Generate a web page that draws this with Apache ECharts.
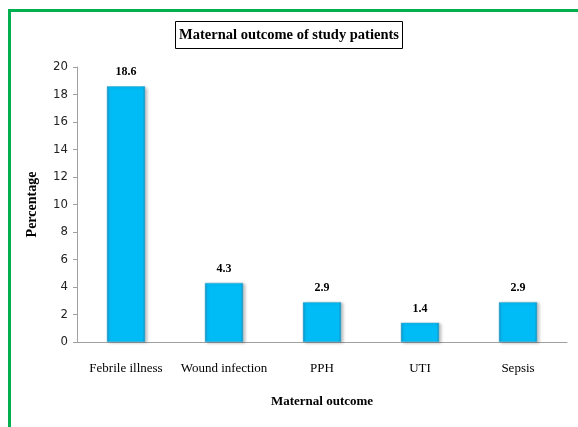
<!DOCTYPE html>
<html><head><meta charset="utf-8">
<script src="https://cdn.jsdelivr.net/npm/echarts@6/dist/echarts.min.js"></script>
<style>
html,body{margin:0;padding:0;background:#fff;}
#frame{position:absolute;left:8px;top:9px;width:570px;height:418px;border-left:3px solid #00b050;border-top:3px solid #00b050;box-sizing:border-box;}
#c{position:absolute;left:0;top:0;width:578px;height:427px;}
</style>
</head><body>
<div id="frame"></div>
<div id="c"></div>
<script>
const categories = ['Febrile illness', 'Wound infection', 'PPH', 'UTI', 'Sepsis'];
const values = [18.6, 4.3, 2.9, 1.4, 2.9];
const yTicks = [0, 2, 4, 6, 8, 10, 12, 14, 16, 18, 20];

const chart = echarts.init(document.getElementById('c'));
chart.setOption({
  backgroundColor: 'transparent',
  animation: false,
  title: {
    text: 'Maternal outcome of study patients',
    left: 'center',
    top: 21,
    padding: [7, 4, 6, 4],
    borderColor: '#000',
    borderWidth: 1,
    textStyle: {fontFamily: 'Liberation Serif', fontWeight: 'bold', fontSize: 14.5, color: '#000'}
  },
  grid: {left: 77, right: 11, top: 67, bottom: 85, containLabel: false},
  xAxis: {
    type: 'category',
    data: categories,
    name: 'Maternal outcome',
    nameLocation: 'middle',
    nameGap: 53,
    nameTextStyle: {fontFamily: 'Liberation Serif', fontWeight: 'bold', fontSize: 13, color: '#000'},
    axisLine: {lineStyle: {color: '#a0a0a0'}},
    axisTick: {show: false},
    axisLabel: {fontFamily: 'Liberation Serif', fontSize: 13, color: '#000', margin: 20, interval: 0}
  },
  yAxis: {
    type: 'value',
    min: yTicks[0],
    max: yTicks[yTicks.length - 1],
    interval: 2,
    name: 'Percentage',
    nameLocation: 'middle',
    nameGap: 38,
    nameTextStyle: {fontFamily: 'Liberation Serif', fontWeight: 'bold', fontSize: 14, color: '#000'},
    axisLine: {show: true, lineStyle: {color: '#a0a0a0'}},
    axisTick: {show: true, length: 4, lineStyle: {color: '#a0a0a0'}},
    splitLine: {show: false},
    axisLabel: {fontFamily: '"DejaVu Sans Condensed", "Liberation Sans", sans-serif', fontSize: 13, color: '#222', margin: 9}
  },
  series: [{
    type: 'bar',
    data: values,
    barWidth: '39%',
    itemStyle: {
      color: new echarts.graphic.LinearGradient(0, 0, 1, 0, [
        {offset: 0, color: '#1590c0'},
        {offset: 0.07, color: '#00bcf6'},
        {offset: 0.93, color: '#00bcf6'},
        {offset: 1, color: '#1590c0'}
      ]),
      borderColor: '#3aa7cf',
      borderWidth: 0.5,
      shadowColor: 'rgba(0,0,0,0.25)',
      shadowBlur: 3,
      shadowOffsetX: 2,
      shadowOffsetY: 1
    },
    label: {
      show: true,
      position: 'top',
      distance: 8,
      fontFamily: 'Liberation Serif',
      fontWeight: 'bold',
      fontSize: 12,
      color: '#000',
      formatter: p => p.value.toFixed(1)
    }
  }]
});
</script>
</body></html>
